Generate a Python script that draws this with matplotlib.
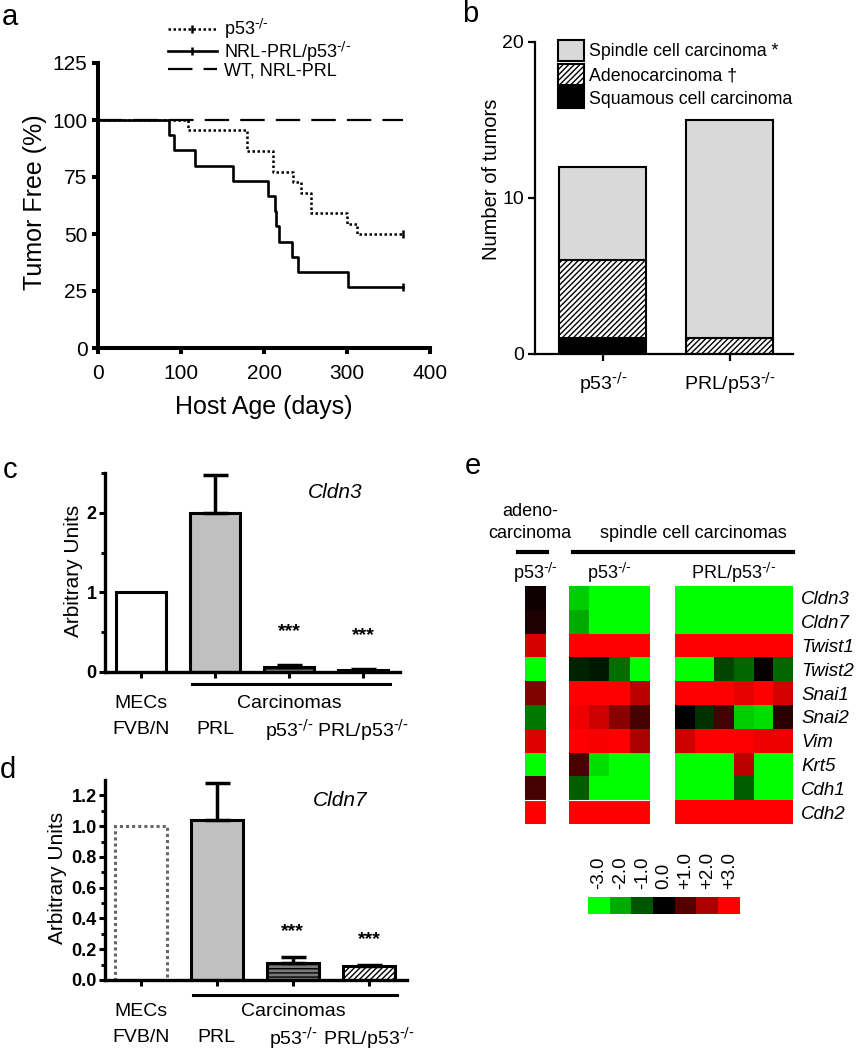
import numpy as np
import matplotlib
matplotlib.use("Agg")
import matplotlib.pyplot as plt
from matplotlib.colors import LinearSegmentedColormap
from matplotlib.patches import Patch
from matplotlib.lines import Line2D
from matplotlib.transforms import blended_transform_factory

plt.rcParams['font.family'] = ['Liberation Sans', 'DejaVu Sans']
plt.rcParams['mathtext.default'] = 'regular'
plt.rcParams['hatch.linewidth'] = 1.0

KO = r'$^{\text{-/-}}$'

## panel a: survival
p53_days = [0, 108, 179, 211, 235, 245, 257, 300, 312, 368]
p53_free = [100, 95.5, 86.4, 77.3, 72.7, 68.2, 59.1, 54.5, 50.0, 50.0]
nrl_days = [0, 86, 92, 117, 163, 205, 213, 215, 218, 234, 241, 301, 368]
nrl_free = [100, 93.3, 86.7, 80.0, 73.3, 66.7, 60.0, 53.3, 46.7, 40.0, 33.3, 26.7, 26.7]
wt_days = [0, 368]
wt_free = [100, 100]

## panel b: tumor types
b_groups = ['p53' + KO, 'PRL/p53' + KO]
squamous = [1, 0]
adeno = [5, 1]
spindle = [6, 14]

## panels c, d: qPCR
qpcr_top = ['MECs', '', 'Carcinomas', '']
qpcr_bottom = ['FVB/N', 'PRL', 'p53' + KO, 'PRL/p53' + KO]
cldn3_mean = [1.0, 2.0, 0.06, 0.03]
cldn3_err = [0.0, 0.47, 0.03, 0.01]
cldn7_mean = [1.0, 1.04, 0.11, 0.09]
cldn7_err = [0.0, 0.24, 0.04, 0.01]
stars = ['', '', '***', '***']

## panel e: heatmap
genes = ['Cldn3', 'Cldn7', 'Twist1', 'Twist2', 'Snai1', 'Snai2', 'Vim', 'Krt5', 'Cdh1', 'Cdh2']
adeno_p53 = [[0.15], [0.35], [2.5], [-3.0], [1.5], [-1.4], [2.6], [-3.0], [0.8], [3.0]]
spindle_p53 = [[-2.4, -3, -3, -3],
               [-2.0, -3, -3, -3],
               [3, 3, 3, 3],
               [-0.4, -0.3, -1.3, -3],
               [3, 3, 3, 2.2],
               [2.8, 2.4, 1.6, 0.8],
               [3, 2.9, 3, 2.0],
               [0.9, -2.6, -3, -3],
               [-1.1, -3, -3, -3],
               [3, 3, 3, 3]]
spindle_prl = [[-3, -3, -3, -3, -3, -3],
               [-3, -3, -3, -3, -3, -3],
               [3, 3, 3, 3, 3, 3],
               [-3, -3, -0.8, -1.2, 0.1, -1.2],
               [3, 3, 3, 2.7, 3, 2.5],
               [0.0, -0.6, 0.8, -2.4, -2.6, 0.5],
               [2.4, 3, 3, 3, 2.8, 2.8],
               [-3, -3, -3, 2.2, -3, -3],
               [-3, -3, -3, -1.1, -3, -3],
               [3, 3, 3, 3, 3, 3]]
scale_vals = [-3, -2, -1, 0, 1, 2, 3]
scale_labels = ['-3.0', '-2.0', '-1.0', '0.0', '+1.0', '+2.0', '+3.0']

W, H = 858, 1050
fig = plt.figure(figsize=(W / 100, H / 100), dpi=100)


def box(l, t, r, b):
    return [l / W, 1 - b / H, (r - l) / W, (b - t) / H]


def ftext(x, y, s, **kw):
    fig.text(x / W, 1 - y / H, s, **kw)


def fline(x1, x2, y, lw=3):
    fig.add_artist(Line2D([x1 / W, x2 / W], [1 - y / H] * 2, transform=fig.transFigure,
                          color='k', lw=lw))


# panel letters
ftext(2, 17, 'a', fontsize=21, va='center')
ftext(462, 14, 'b', fontsize=21, va='center')
ftext(3, 470, 'c', fontsize=21, va='center')
ftext(0, 770, 'd', fontsize=21, va='center')
ftext(465, 466, 'e', fontsize=21, va='center')

# ---- a
ax = fig.add_axes(box(98, 63, 430, 348))
ax.plot(wt_days, wt_free, color='k', lw=1.6, dashes=(11, 5), label='WT, NRL-PRL', zorder=2)
ax.step(p53_days, p53_free, where='post', color='k', lw=1.8, linestyle=(0, (1, 1)),
        marker='|', markevery=[len(p53_days) - 1], markersize=6, mew=1.8, label='p53' + KO, zorder=3)
ax.step(nrl_days, nrl_free, where='post', color='k', lw=1.9,
        marker='|', markevery=[len(nrl_days) - 1], markersize=6, mew=1.8, label='NRL-PRL/p53' + KO, zorder=4)
ax.set_xlim(0, 400)
ax.set_ylim(0, 125)
ax.set_xticks([0, 100, 200, 300, 400])
ax.set_yticks([0, 25, 50, 75, 100, 125])
for s in ['top', 'right']:
    ax.spines[s].set_visible(False)
for s in ['left', 'bottom']:
    ax.spines[s].set_linewidth(2.9)
ax.tick_params(width=2.9, length=4.5, labelsize=15, pad=3)
ax.tick_params(axis='x', pad=7)
ax.set_xlabel('Host Age (days)', fontsize=18)
ax.set_ylabel('Tumor Free (%)', fontsize=18)
ax.xaxis.set_label_coords(0.5, -0.165)
ax.yaxis.set_label_coords(-0.155, 0.51)
hs, ls = ax.get_legend_handles_labels()
order = [1, 2, 0]
ax.legend([hs[i] for i in order], [ls[i] for i in order], loc='upper left',
          bbox_to_anchor=(168 / W, 1 - 17 / H), bbox_transform=fig.transFigure,
          frameon=False, fontsize=13, handlelength=2.7, handletextpad=0.4,
          labelspacing=-0.08, borderpad=0, borderaxespad=0)

# ---- b
ax = fig.add_axes(box(535, 42, 793, 354))
xb = np.arange(len(b_groups))
bw = 0.685
ax.bar(xb, squamous, bw, color='k', edgecolor='k', lw=1.5)
ax.bar(xb, adeno, bw, bottom=squamous, color='white', edgecolor='k', lw=1.5, hatch='//////')
ax.bar(xb, spindle, bw, bottom=np.add(squamous, adeno), color='#d9d9d9', edgecolor='k', lw=1.5)
ax.set_xlim(-0.535, 1.5)
ax.set_ylim(0, 20)
ax.set_yticks([0, 10, 20])
ax.set_xticks(xb)
ax.set_xticklabels(b_groups)
for s in ['top', 'right']:
    ax.spines[s].set_visible(False)
for s in ['left', 'bottom']:
    ax.spines[s].set_linewidth(1.6)
ax.tick_params(width=1.6, length=5, labelsize=14, pad=3)
ax.tick_params(axis='x', pad=7)
ax.set_ylabel('Number of tumors', fontsize=14.5)
ax.yaxis.set_label_coords(-0.13, 0.56)
handles = [Patch(facecolor='#d9d9d9', edgecolor='k', lw=1.5),
           Patch(facecolor='white', edgecolor='k', lw=1.5, hatch='//////'),
           Patch(facecolor='k', edgecolor='k', lw=1.5)]
ax.legend(handles, ['Spindle cell carcinoma *', 'Adenocarcinoma \u2020', 'Squamous cell carcinoma'],
          loc='upper left', bbox_to_anchor=(558 / W, 1 - 40 / H), bbox_transform=fig.transFigure,
          frameon=False, fontsize=12.8, handlelength=1.45, handleheight=1.45, handletextpad=0.3,
          labelspacing=0.14, borderpad=0, borderaxespad=0)

# ---- c, d
faces = ['white', '#c0c0c0', '#7a7a7a', 'white']
hatches = [None, None, '----', '//////']


def qpcr(rect, means, errs, ylim, yticks, ylabels, minor, gene, xl, line_px, ax_h, star_off):
    ax = fig.add_axes(rect)
    x = np.arange(len(means))
    bars = ax.bar(x, means, 0.68, color=faces, edgecolor='k', lw=2.2)
    for b, h in zip(bars, hatches):
        if h:
            b.set_hatch(h)
    ex = [xi for xi, e in zip(x, errs) if e > 0]
    em = [m for m, e in zip(means, errs) if e > 0]
    ee = [e for e in errs if e > 0]
    ax.errorbar(ex, em, yerr=[np.zeros(len(ee)), ee], fmt='none', ecolor='k',
                elinewidth=2.5, capsize=9, capthick=2.5)
    for xi, m, e, st in zip(x, means, errs, stars):
        if st:
            ax.annotate(st, xy=(xi, m + e), xytext=(0, star_off), textcoords='offset points',
                        ha='center', va='center', fontsize=14, fontweight='bold')
    ax.set_xlim(*xl)
    ax.set_ylim(*ylim)
    ax.set_yticks(yticks)
    ax.set_yticklabels(ylabels, fontweight='bold')
    ax.set_yticks(minor, minor=True)
    ax.set_xticks(x)
    ax.set_xticklabels([])
    for s in ['top', 'right']:
        ax.spines[s].set_visible(False)
    for s in ['left', 'bottom']:
        ax.spines[s].set_linewidth(2.4)
    ax.tick_params(width=2.2, length=4, labelsize=13, pad=2)
    ax.tick_params(which='minor', width=2.0, length=3)
    ax.set_ylabel('Arbitrary Units', fontsize=15)
    ax.text(0.78, 0.9, gene, transform=ax.transAxes, fontsize=15, style='italic',
            ha='center', va='center')
    tr = blended_transform_factory(ax.transData, ax.transAxes)
    ax.plot([0.69, 3.37], [-line_px / ax_h] * 2, transform=tr, clip_on=False, color='k', lw=2.2)
    for xi, t in zip(x, qpcr_top):
        ax.annotate(t, xy=(xi, 0), xycoords=tr, xytext=(0, -32 * 0.72),
                    textcoords='offset points', ha='center', va='center', fontsize=14)
    for xi, t in zip(x, qpcr_bottom):
        ax.annotate(t, xy=(xi, 0), xycoords=tr, xytext=(0, -58 * 0.72),
                    textcoords='offset points', ha='center', va='center', fontsize=14)
    return ax


ax_c = qpcr(box(105, 473, 400, 672), cldn3_mean, cldn3_err, (0, 2.5), [0, 1, 2], ['0', '1', '2'],
            [0.5, 1.5, 2.5], 'Cldn3', (-0.49, 3.5), 12, 199, 24)
ax_c.yaxis.set_label_coords(-0.075, 0.51)
ax_d = qpcr(box(105, 780, 407, 980), cldn7_mean, cldn7_err, (0, 1.3),
            [0, 0.2, 0.4, 0.6, 0.8, 1.0, 1.2], ['0.0', '0.2', '0.4', '0.6', '0.8', '1.0', '1.2'],
            [0.1, 0.3, 0.5, 0.7, 0.9, 1.1], 'Cldn7', (-0.47, 3.5), 15, 200, 18)
ax_d.yaxis.set_label_coords(-0.125, 0.51)
ax_d.patches[0].set_edgecolor('#666666')
ax_d.patches[0].set_linestyle((0, (1, 1)))

# ---- e
cmap = LinearSegmentedColormap.from_list('gkr', ['#00ff00', '#000000', '#ff0000'])
ftext(530, 512, 'adeno-', fontsize=13, ha='center', va='center')
ftext(530, 533, 'carcinoma', fontsize=13, ha='center', va='center')
ftext(693, 533, 'spindle cell carcinomas', fontsize=13, ha='center', va='center')
fline(518, 547, 552)
fline(573, 793, 552)

groups = [(adeno_p53, box(525, 586, 546, 824), 'p53' + KO),
          (spindle_p53, box(569, 586, 650, 824), 'p53' + KO),
          (spindle_prl, box(675, 586, 793, 824), 'PRL/p53' + KO)]
for i, (vals, rect, lab) in enumerate(groups):
    ax = fig.add_axes(rect)
    ax.imshow(np.array(vals), cmap=cmap, vmin=-3, vmax=3, aspect='auto', interpolation='nearest')
    if i < 2:
        ax.axhline(8.5, color='white', lw=0.8)
    for s in ax.spines.values():
        s.set_visible(False)
    ax.set_xticks([])
    ax.annotate(lab, xy=(0.5, 1), xycoords='axes fraction', xytext=(0, 13 * 0.72),
                textcoords='offset points', ha='center', va='center', fontsize=13)
    if i == 2:
        ax.yaxis.tick_right()
        ax.set_yticks(range(len(genes)))
        ax.set_yticklabels(genes, fontsize=13.5, style='italic')
        ax.tick_params(length=0, pad=6)
    else:
        ax.set_yticks([])

ax = fig.add_axes(box(588, 897, 740, 914))
ax.imshow(np.array([scale_vals]), cmap=cmap, vmin=-3, vmax=3, aspect='auto', interpolation='nearest')
for s in ax.spines.values():
    s.set_visible(False)
ax.set_yticks([])
ax.xaxis.tick_top()
ax.set_xticks(range(len(scale_vals)))
ax.set_xticklabels(scale_labels, rotation=90, fontsize=13.5)
ax.tick_params(length=0, pad=6)

fig.savefig('out.png', dpi=100)
